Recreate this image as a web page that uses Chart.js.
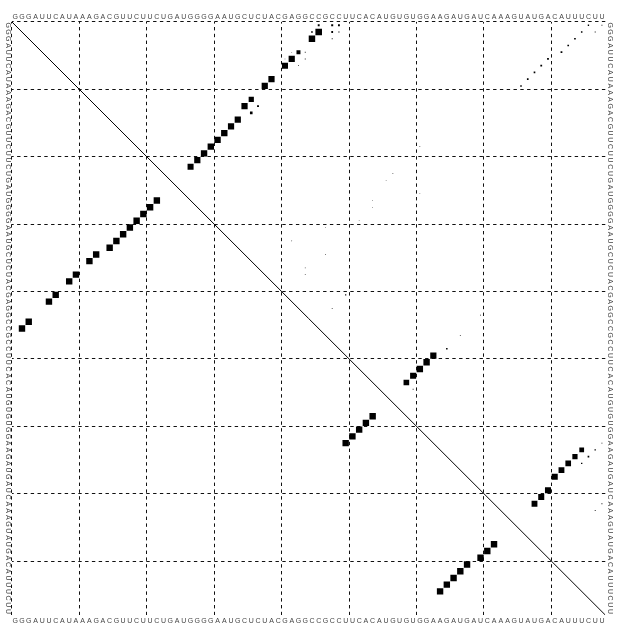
<!DOCTYPE html>
<html>
<head>
<meta charset="utf-8">
<script src="https://cdn.jsdelivr.net/npm/chart.js@4.4.1/dist/chart.umd.min.js"></script>
<style>
html,body{margin:0;padding:0;background:#fff;}
#wrap{width:628px;height:626px;}
</style>
</head>
<body>
<div id="wrap"><canvas id="c" width="628" height="626"></canvas></div>
<script>
// ---- data ----
const sequence = "GGGAUUCAUAAAGACGUUCUUCUGAUGGGGAAUGCUCUACGAGGCCGCCUUCACAUGUGUGGAAGAUGAUCAAAGUAUGACAUUUCUU";
const gridTicks = [0.5, 10.5, 20.5, 30.5, 40.5, 50.5, 60.5, 70.5, 80.5];

// MFE structure pairs (lower-left triangle): i, j
const mfeI = [2, 3, 6, 7, 9, 10, 12, 13, 15, 16, 17, 18, 19, 20, 21, 22, 50, 51, 52, 53, 54, 64, 65, 66, 67, 68, 70, 71, 72];
const mfeJ = [46, 45, 42, 41, 39, 38, 36, 35, 34, 33, 32, 31, 30, 29, 28, 27, 63, 62, 61, 60, 59, 85, 84, 83, 82, 81, 80, 79, 78];

// base-pair probabilities (upper-right triangle): i, j, p
const probI = [2, 3, 1, 2, 1, 1, 2, 2, 3, 5, 6, 7, 5, 5, 6, 6, 7,
  9, 10, 12, 13, 14, 13, 15, 16, 17, 18, 19, 20, 21, 22,
  10, 9, 8, 7, 6, 5, 4, 3, 2, 1, 2, 1,
  49, 50, 51, 52, 53, 54, 55, 47, 44, 41, 43,
  64, 65, 66, 67, 68, 70, 71, 72, 64, 65, 66, 63, 72, 73,
  37, 38, 35, 23, 24, 27, 28, 30, 19, 26, 33, 31];
const probJ = [46, 45, 46, 45, 48, 49, 48, 49, 48, 43, 42, 41, 42, 44, 44, 41, 43,
  39, 38, 36, 35, 36, 37, 34, 33, 32, 31, 30, 29, 28, 27,
  76, 77, 78, 79, 80, 82, 83, 84, 85, 86, 87, 88,
  65, 63, 62, 61, 60, 59, 60, 67, 70, 50, 48,
  85, 84, 83, 82, 81, 80, 79, 78, 87, 86, 85, 88, 88, 87,
  44, 44, 47, 57, 56, 54, 54, 52, 61, 61, 42, 47];
const probP = [0.95, 0.92, 0.08, 0.06, 0.09, 0.08, 0.07, 0.03, 0.02, 0.35, 0.85, 0.8, 0.01, 0.015, 0.015, 0.01, 0.015,
  0.85, 0.85, 0.6, 0.85, 0.15, 0.08, 0.85, 0.85, 0.9, 0.9, 0.9, 0.9, 0.85, 0.8,
  0.05, 0.06, 0.06, 0.07, 0.07, 0.07, 0.06, 0.06, 0.05, 0.04, 0.02, 0.015,
  0.05, 0.85, 0.9, 0.9, 0.8, 0.7, 0.015, 0.015, 0.015, 0.03, 0.015,
  0.5, 0.6, 0.7, 0.75, 0.8, 0.8, 0.8, 0.75, 0.04, 0.06, 0.04, 0.02, 0.02, 0.015,
  0.01, 0.01, 0.01, 0.01, 0.01, 0.01, 0.01, 0.01, 0.01, 0.01, 0.01, 0.01];

// ---- build datasets ----
const mfePoints = mfeI.map((i, k) => ({x: i, y: mfeJ[k], s: 0.95}));
const probPoints = probI.map((i, k) => ({x: probJ[k], y: i, s: Math.sqrt(probP[k])}));
const N = sequence.length;

function boxRadius(ctx) {
  const raw = ctx.raw;
  if (!raw) return 0;
  const sx = ctx.chart.scales.x;
  const cell = Math.abs(sx.getPixelForValue(1) - sx.getPixelForValue(0));
  return raw.s * cell / Math.SQRT2;
}

const seqLabels = {
  id: 'seqLabels',
  afterDraw(chart) {
    const c = chart.ctx, sx = chart.scales.x, sy = chart.scales.y;
    c.save();
    c.fillStyle = '#444';
    c.font = '7px "Liberation Sans", Arial, sans-serif';
    c.textAlign = 'center';
    c.textBaseline = 'middle';
    const top = chart.chartArea.top, bottom = chart.chartArea.bottom;
    const left = chart.chartArea.left, right = chart.chartArea.right;
    for (let i = 0; i < N; i++) {
      const ch = sequence[i];
      const px = sx.getPixelForValue(i + 1);
      const py = sy.getPixelForValue(i + 1);
      c.fillText(ch, px, top - 5);
      c.fillText(ch, px, bottom + 6);
      c.save(); c.translate(left - 4, py); c.rotate(Math.PI / 2); c.fillText(ch, 0, 0); c.restore();
      c.save(); c.translate(right + 5, py); c.rotate(Math.PI / 2); c.fillText(ch, 0, 0); c.restore();
    }
    c.restore();
  }
};

const axisCommon = {
  type: 'linear',
  min: 0.5,
  max: N + 0.5,
  afterBuildTicks: (scale) => { scale.ticks = gridTicks.map(v => ({value: v})); },
  ticks: {display: false},
  grid: {color: '#111', lineWidth: 1, drawTicks: false},
  border: {display: false, dash: [3.4, 3.4], dashOffset: 1.7}
};

new Chart(document.getElementById('c'), {
  data: {
    datasets: [
      {
        type: 'line',
        data: [{x: 0.5, y: 0.5}, {x: N + 0.5, y: N + 0.5}],
        borderColor: '#000', borderWidth: 1, pointRadius: 0, fill: false
      },
      {
        type: 'scatter',
        data: mfePoints,
        pointStyle: 'rect', backgroundColor: '#000', borderWidth: 0,
        pointRadius: boxRadius
      },
      {
        type: 'scatter',
        data: probPoints,
        pointStyle: 'rect', backgroundColor: '#000', borderWidth: 0,
        pointRadius: boxRadius
      }
    ]
  },
  options: {
    responsive: false,
    devicePixelRatio: 1,
    animation: false,
    events: [],
    layout: {padding: {left: 11.87, top: 21.9, right: 22.7, bottom: 11}},
    plugins: {legend: {display: false}, tooltip: {enabled: false}},
    scales: {
      x: Object.assign({}, axisCommon, {position: 'bottom'}),
      y: Object.assign({}, axisCommon, {position: 'left', reverse: true})
    }
  },
  plugins: [seqLabels]
});
</script>
</body>
</html>
